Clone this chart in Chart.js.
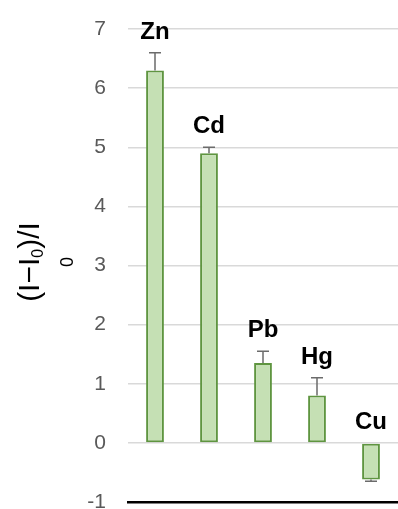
<!DOCTYPE html>
<html lang="en">
<head>
    <meta charset="UTF-8">
    <title>Metal ion response</title>
    <script src="https://cdn.jsdelivr.net/npm/chart.js"></script>
    <style>
        html, body { margin: 0; padding: 0; background: #fff; }
        #wrap { width: 398px; height: 509px; }
    </style>
</head>
<body>
    <div id="wrap"><canvas id="barChart" width="398" height="509"></canvas></div>

    <script>
        // values
        const metals = ['Zn', 'Cd', 'Pb', 'Hg', 'Cu'];
        const response = [6.30, 4.90, 1.35, 0.80, -0.62];
        const errorUp = [0.30, 0.10, 0.20, 0.30, 0.03];
        const yMin = -1;
        const yMax = 7;

        const font = '"Liberation Sans", Arial, sans-serif';

        // error bars + metal labels on top of the bars
        const errorAndLabels = {
            id: 'errorAndLabels',
            afterDatasetsDraw(chart) {
                const ctx = chart.ctx;
                const y = chart.scales.y;
                const meta = chart.getDatasetMeta(0);
                ctx.save();
                meta.data.forEach((bar, i) => {
                    const v = response[i];
                    const e = errorUp[i];
                    const end = v >= 0 ? v + e : v - e;
                    const y0 = y.getPixelForValue(v);
                    const y1 = y.getPixelForValue(end);
                    ctx.strokeStyle = '#6b6b6b';
                    ctx.lineWidth = 1.5;
                    ctx.beginPath();
                    ctx.moveTo(bar.x, y0);
                    ctx.lineTo(bar.x, y1);
                    ctx.moveTo(bar.x - 6, y1);
                    ctx.lineTo(bar.x + 6, y1);
                    ctx.stroke();

                    const top = y.getPixelForValue(Math.max(v + e, 0));
                    ctx.fillStyle = '#000';
                    ctx.font = 'bold 24px ' + font;
                    ctx.textAlign = 'center';
                    ctx.textBaseline = 'alphabetic';
                    ctx.fillText(metals[i], bar.x, top - 14);
                });
                ctx.restore();
            }
        };

        // rotated y title: (I−I0)/I with wrapped subscript 0
        const yTitle = {
            id: 'yTitle',
            afterDraw(chart) {
                const ctx = chart.ctx;
                const big = '30px ' + font;
                const small = '16px ' + font;
                ctx.save();
                ctx.fillStyle = '#000';
                ctx.textBaseline = 'alphabetic';
                ctx.textAlign = 'left';

                ctx.font = big;
                const a = '(I\u2212I', c = ')/I';
                const wa = ctx.measureText(a).width;
                const wc = ctx.measureText(c).width;
                ctx.font = small;
                const wb = ctx.measureText('0').width;
                const total = wa + wb + wc;

                ctx.translate(38.5, 262);
                ctx.rotate(-Math.PI / 2);
                let x = -total / 2;
                ctx.font = big;
                ctx.fillText(a, x, 0);
                x += wa;
                ctx.font = small;
                ctx.fillText('0', x, 4.5);
                x += wb;
                ctx.font = big;
                ctx.fillText(c, x, 0);

                ctx.font = '18px ' + font;
                ctx.textAlign = 'center';
                ctx.fillText('0', 0, 34.5);
                ctx.restore();
            }
        };

        new Chart(document.getElementById('barChart'), {
            type: 'bar',
            data: {
                labels: metals,
                datasets: [{
                    data: response,
                    backgroundColor: '#c5e0b4',
                    borderColor: '#5f9540',
                    borderWidth: 2,
                    borderSkipped: false,
                    categoryPercentage: 1,
                    barPercentage: 0.33
                }]
            },
            options: {
                responsive: false,
                animation: false,
                devicePixelRatio: 1,
                layout: { padding: { top: 29, bottom: 7, left: 0, right: -3 } },
                plugins: {
                    legend: { display: false },
                    tooltip: { enabled: false }
                },
                scales: {
                    x: {
                        ticks: { display: false },
                        grid: { display: false },
                        border: { display: true, color: '#000', width: 2.5 },
                        afterFit(scale) { scale.height = 0; }
                    },
                    y: {
                        min: yMin,
                        max: yMax,
                        ticks: {
                            stepSize: 1,
                            padding: 22,
                            color: '#595959',
                            font: { family: font, size: 21 }
                        },
                        grid: { color: '#d9d9d9', lineWidth: 1.5, drawTicks: false },
                        border: { display: false },
                        afterFit(scale) {
                            scale.width = 128;
                            scale.paddingTop = 0;
                            scale.paddingBottom = 0;
                        }
                    }
                }
            },
            plugins: [errorAndLabels, yTitle]
        });
    </script>
</body>
</html>
